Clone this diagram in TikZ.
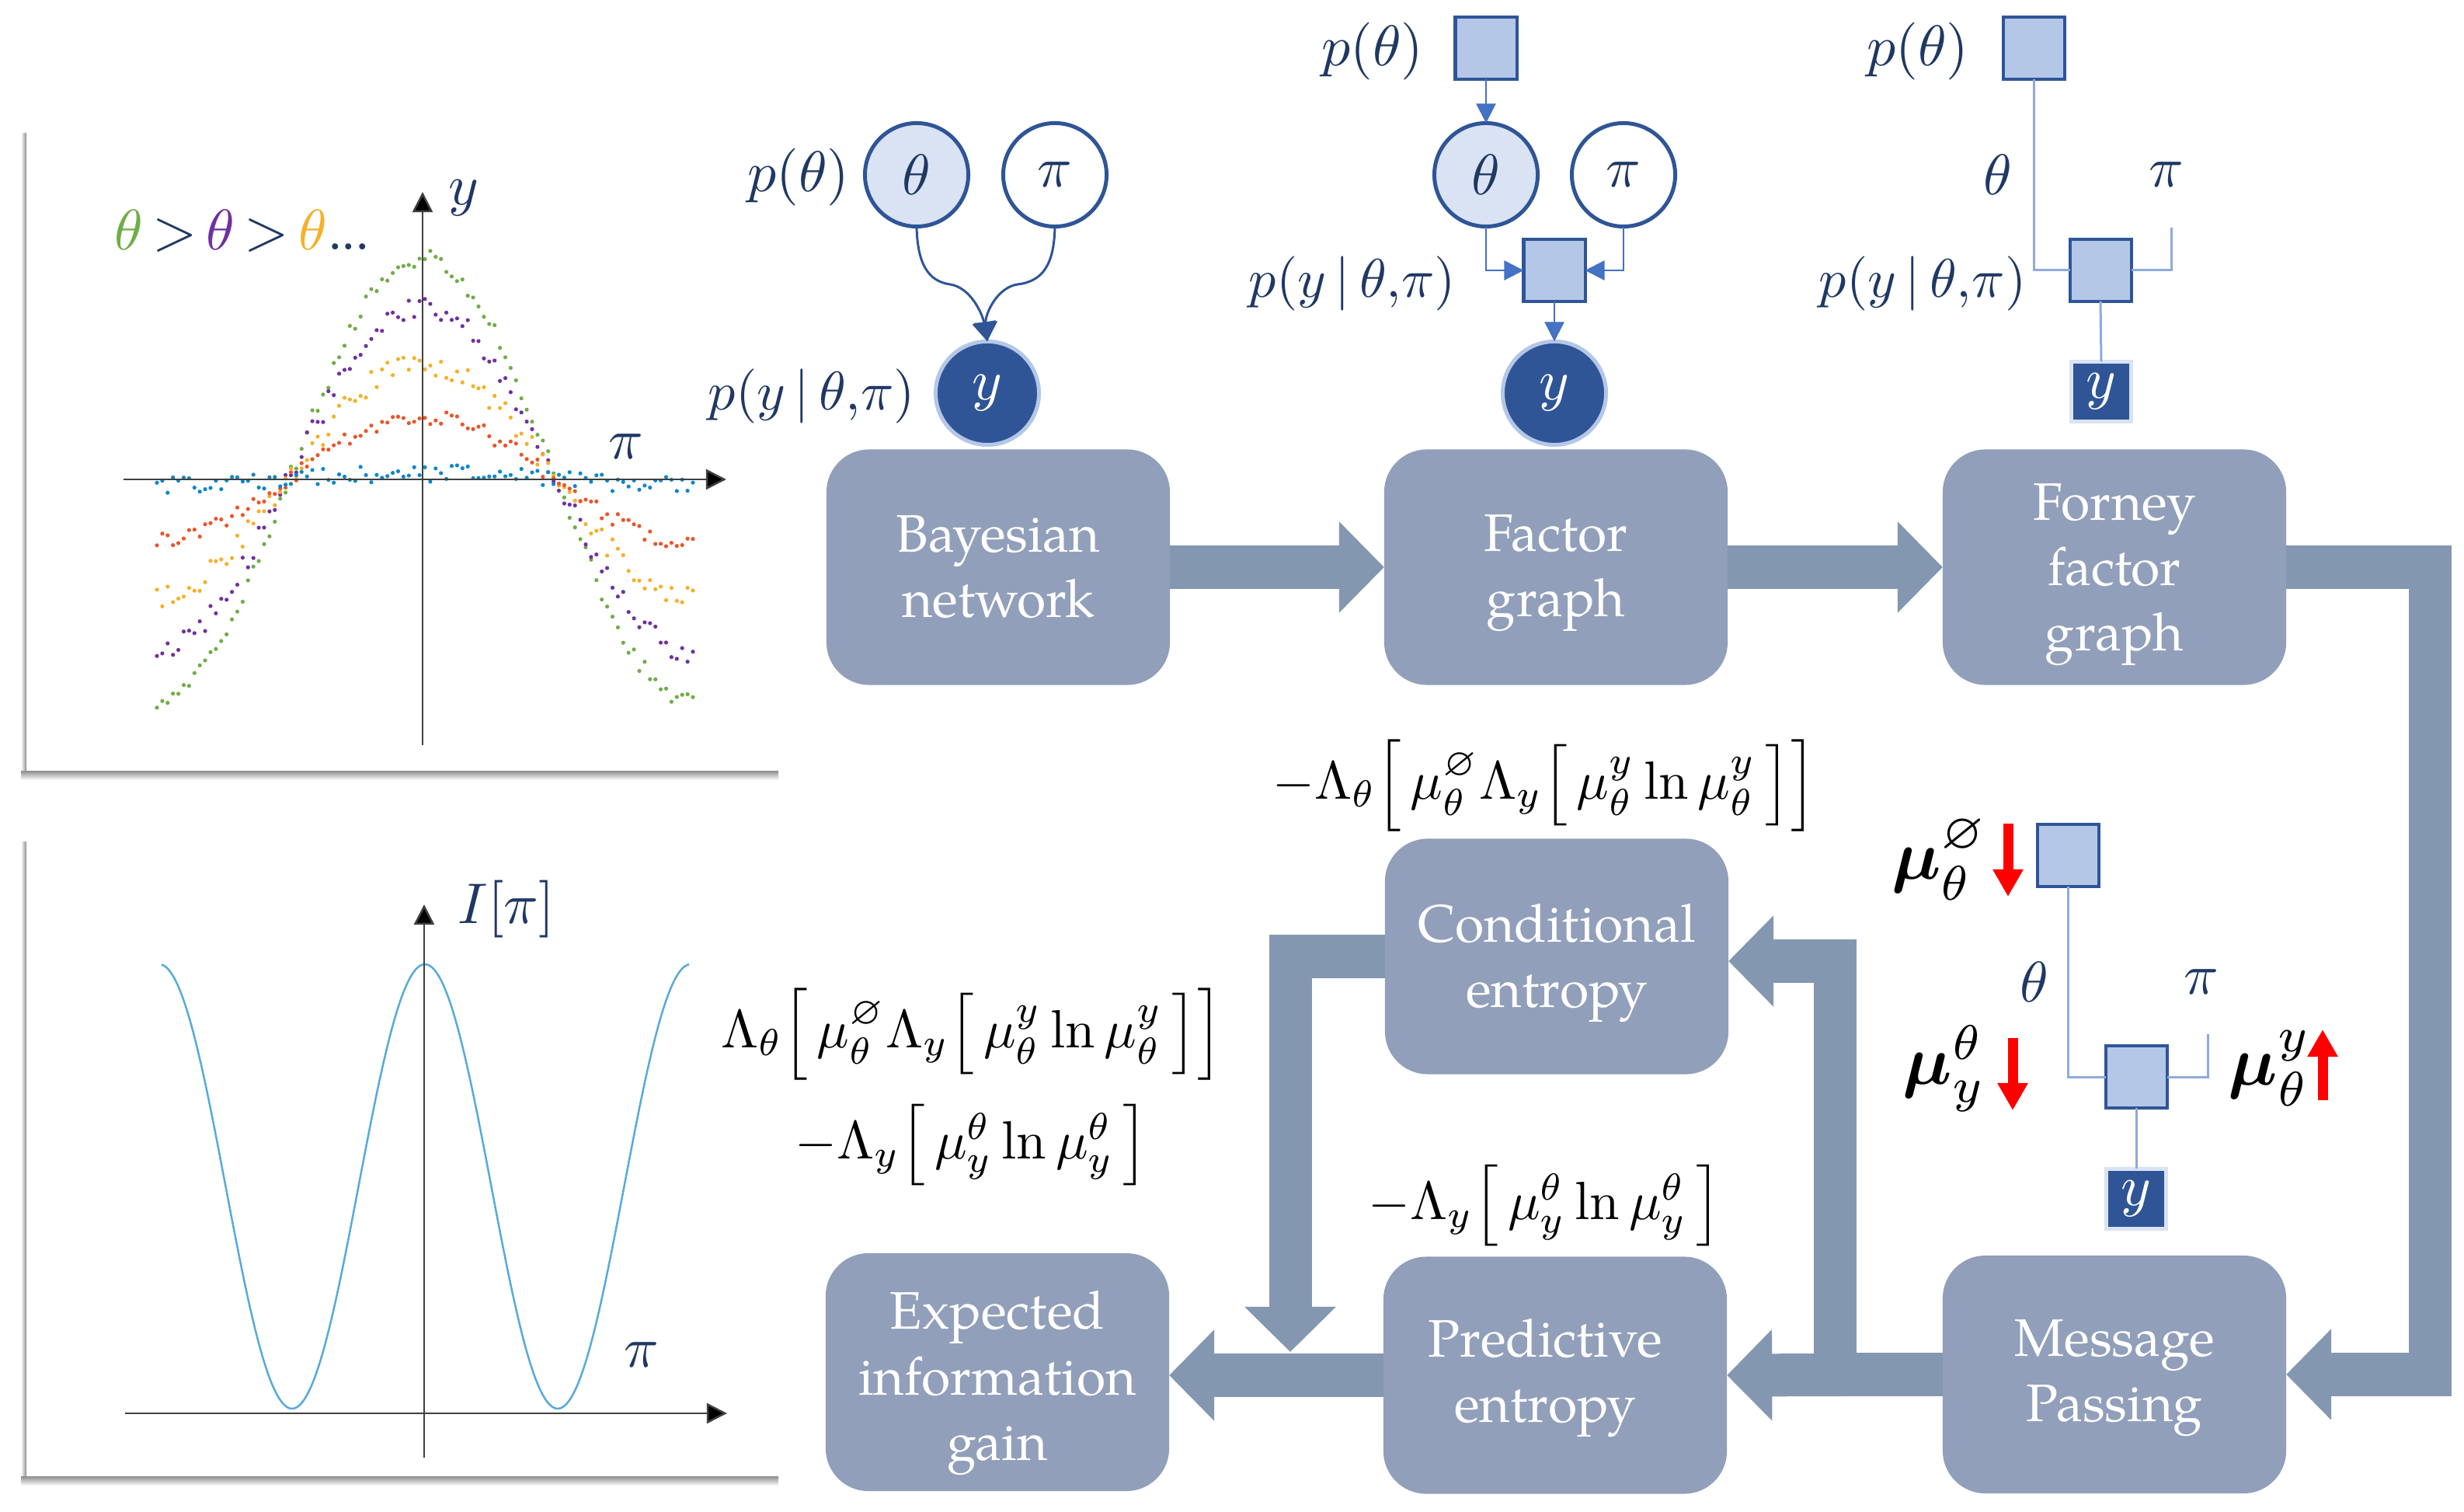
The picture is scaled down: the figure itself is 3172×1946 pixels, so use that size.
\documentclass[tikz,border=0pt]{standalone}
\usepackage{amsmath,amssymb,graphicx}
\usepackage[no-math]{fontspec}
\setmainfont{TeX Gyre Pagella}
\usetikzlibrary{arrows.meta,calc}
\definecolor{navy}{HTML}{1F3864}
\definecolor{boxc}{HTML}{919FBA}
\definecolor{fatc}{HTML}{8497B0}
\definecolor{dk}{HTML}{2F5597}
\definecolor{lt}{HTML}{B4C7E7}
\definecolor{ltr}{HTML}{DAE3F3}
\definecolor{mid}{HTML}{4472C4}
\definecolor{edge}{HTML}{8FAADC}
\definecolor{cgreen}{HTML}{70AD47}
\definecolor{cpurple}{HTML}{7030A0}
\definecolor{corange}{HTML}{F5B02A}
\definecolor{cred}{HTML}{E8562A}
\definecolor{cblue}{HTML}{0F86CC}
\newcommand{\NS}[1]{\scalebox{2.1}{$#1$}}
\newcommand{\LB}{\mathopen{\vcenter{\hbox{\scalebox{1}[0.84]{$\Bigl[$}}}}}
\newcommand{\RB}{\mathclose{\vcenter{\hbox{\scalebox{1}[0.84]{$\Bigr]$}}}}}
\newcommand{\LBB}{\mathopen{\vcenter{\hbox{\scalebox{1}[0.95]{$\Bigl[$}}}}}
\newcommand{\RBB}{\mathclose{\vcenter{\hbox{\scalebox{1}[0.95]{$\Bigr]$}}}}}
\newcommand{\PYG}{\scalebox{0.95}{$p(y\,{|}\,\theta{,}\pi)$}}
\tikzset{
 flow/.style={rounded corners=0.55cm,fill=boxc,minimum width=4.42cm,minimum height=3.03cm,inner sep=0,outer sep=0},
 flowtxt/.style={text=white,inner sep=0,outer sep=0,align=center,font=\fontsize{19.3}{23.9}\selectfont},
 fat/.style={draw=fatc,line width=0.55cm,line join=miter,-{Triangle[length=0.58cm,width=1.14cm]}},
 lab/.style={scale=2.1,text=navy,inner sep=0,outer sep=0},
 form/.style={scale=1.97,text=black,inner sep=0,outer sep=0},
 mulab/.style={scale=2.55,text=black,inner sep=0,outer sep=0},
 var/.style={circle,draw=dk,line width=0.05cm,minimum size=1.33cm,inner sep=0,outer sep=0,text=navy},
 obs/.style={circle,fill=dk,draw=lt,line width=0.05cm,minimum size=1.33cm,inner sep=0,outer sep=0,text=white},
 fac/.style={rectangle,fill=lt,draw=dk,line width=0.04cm,minimum size=0.79cm,inner sep=0,outer sep=0},
 obsq/.style={rectangle,fill=dk,draw=ltr,line width=0.05cm,minimum size=0.77cm,inner sep=0,outer sep=0,text=white},
 thinarr/.style={draw=mid,line width=0.025cm,-{Triangle[length=0.25cm,width=0.25cm]}},
 curvearr/.style={draw=dk,line width=0.03cm,-{Triangle[length=0.25cm,width=0.3cm]}},
 ffline/.style={draw=edge,line width=0.03cm},
 axisline/.style={draw=black!75,line width=0.025cm,-{Triangle[length=0.26cm,width=0.26cm,fill=black]}},
 redarr/.style={draw=red,line width=0.13cm,-{Triangle[length=0.35cm,width=0.37cm]}},
}
\begin{document}
\begin{tikzpicture}[x=0.01cm,y=-0.01cm]
\useasboundingbox[fill=white] (0,0) rectangle (3172,1946);
% panel shadows
\shade[left color=white,right color=black!45] (27,172) rectangle (34,1000);
\shade[top color=black!45,bottom color=white] (27,992) rectangle (1002,1004);
\shade[left color=white,right color=black!45] (27,1083) rectangle (34,1908);
\shade[top color=black!45,bottom color=white] (27,1900) rectangle (1002,1912);
% scatter
\pgfmathsetseed{11}
\foreach \A/\c/\n in {286/cgreen/12,222/cpurple/14,150/corange/15,80/cred/10,8/cblue/11}{
 \foreach \i in {0,...,100}{
  \pgfmathsetmacro\xx{202+6.9*\i}
  \pgfmathsetmacro\yy{617-\A*cos((\xx-544)/345*180)+\n*rand}
  \fill[\c] (\xx,\yy) circle (0.026cm);
 }
}
\coordinate (a1l) at (159,617); \coordinate (a1r) at (935,617);
\coordinate (a1b) at (544,959); \coordinate (a1t) at (544,247);
\draw[axisline] (a1l) -- (a1r);
\draw[axisline] (a1b) -- (a1t);
\node[lab] (leg) at (312,297) {$\textcolor{cgreen}{\theta}\,{>}\,\textcolor{cpurple}{\theta}\,{>}\,\textcolor{corange}{\theta}{.}\hspace{-0.4pt}{.}\hspace{-0.4pt}{.}$};
\node[lab] (ya) at (597,255) {$y$};
\node[lab] (pia) at (806,575) {$\pi$};
% curve
\draw[draw=cblue!70,line width=0.025cm,domain=208:887,samples=160,smooth] plot (\x,{1527-286*cos((\x-547)/171*180)});
\coordinate (a2l) at (161,1819); \coordinate (a2r) at (936,1819);
\coordinate (a2b) at (546,1876); \coordinate (a2t) at (546,1164);
\draw[axisline] (a2l) -- (a2r);
\draw[axisline] (a2b) -- (a2t);
\node[lab] (ib) at (652,1170) {$I[\pi]$};
\node[lab] (pib) at (826,1744) {$\pi$};
% flow boxes
\node[flow] (bayes) at (1285,730) {};
\node[flow] (factor) at (2003,730) {};
\node[flow] (forney) at (2722,730) {};
\node[flow] (cond) at (2004,1231) {};
\node[flow,minimum height=3.05cm] (pred) at (2002,1770) {};
\node[flow,minimum height=3.06cm] (exp) at (1284,1766) {};
\node[flow,minimum height=3.06cm] (msg) at (2722,1769) {};
\node[flowtxt] (bayest) at (bayes.center) {Bayesian\\network};
\node[flowtxt] (factort) at ($(factor.center)+(0,8)$) {Factor\\graph};
\node[flowtxt] (forneyt) at ($(forney.center)+(0,10)$) {Forney\\factor\\graph};
\node[flowtxt] (condt) at ($(cond.center)+(0,8)$) {Conditional\\entropy};
\node[flowtxt] (predt) at ($(pred.center)+(-13,3)$) {Predictive\\entropy};
\node[flowtxt] (expt) at ($(exp.center)+(0,14)$) {Expected\\information\\gain};
\node[flowtxt] (msgt) at ($(msg.center)+(0,5)$) {Message\\Passing};
% fat arrows
\coordinate (c1) at (3128,1769);
\coordinate (c3) at (2362,1237);
\coordinate (c4) at (1661,1740);
\draw[fat] (bayes.east) -- (factor.west);
\draw[fat] (factor.east) -- (forney.west);
\draw[fat] (forney.east) -| (c1) -- (msg.east);
\draw[fat] (msg.west) -- (pred.east);
\draw[fat] (pred.west) -- (pred.west -| exp.east);
\draw[fat] (msg.west) -| (c3) -- (c3 -| cond.east);
\draw[fat] (cond.west) -| (c4);
% Bayesian network
\node[var,fill=ltr] (bt) at (1180,225) {\NS{\theta}};
\node[var] (bp) at (1358,225) {\NS{\pi}};
\node[obs] (by) at (1271,506) {\NS{y}};
\node[lab] (bl1) at (1028,228) {$p(\theta)$};
\node[lab] (bl2) at (1045,510) {\PYG};
\coordinate (bm1) at (1223,366); \coordinate (bm2) at (1310,366);
\draw[curvearr] (bt.south) .. controls (1181,340) and (1195,362) .. (bm1) .. controls (1250,370) and (1265,405) .. (by.north);
\draw[curvearr] (bp.south) .. controls (1357,340) and (1343,362) .. (bm2) .. controls (1283,370) and (1268,405) .. (by.north);
% factor graph
\node[fac] (fs1) at (1913,62) {};
\node[var,fill=ltr] (ft) at (1913,225) {\NS{\theta}};
\node[var] (fp) at (2090,225) {\NS{\pi}};
\node[fac] (fs2) at (2001,348) {};
\node[obs] (fy) at (2001,506) {\NS{y}};
\node[lab] (fl1) at (1767,66) {$p(\theta)$};
\node[lab] (fl2) at (1741,365) {\PYG};
\draw[thinarr] (fs1.south) -- (ft.north);
\draw[thinarr] (ft.south) |- (fs2.west);
\draw[thinarr] (fp.south) |- (fs2.east);
\draw[thinarr] (fs2.south) -- (fy.north);
% Forney factor graph
\node[fac] (ns1) at (2618,62) {};
\node[fac] (ns2) at (2704,348) {};
\node[obsq] (ny) at (2705,504) {\NS{y}};
\coordinate (nf) at (2795,293);
\node[lab] (nl1) at (2469,66) {$p(\theta)$};
\node[lab] (nl2) at (2475,365) {\PYG};
\node[lab] (nt) at (2572,225) {$\theta$};
\node[lab] (np) at (2789,225) {$\pi$};
\draw[ffline] (ns1.south) |- (ns2.west);
\draw[ffline] (ns2.east) -| (nf);
\draw[ffline] (ns2.south) -- (ny.north);
% Message passing
\node[fac] (ms1) at (2662,1101) {};
\node[fac] (ms2) at (2750,1386) {};
\node[obsq] (my) at (2750,1543) {\NS{y}};
\coordinate (mf) at (2842,1331);
\node[lab] (mt) at (2619,1264) {$\theta$};
\node[lab] (mp) at (2834,1264) {$\pi$};
\draw[ffline] (ms1.south) |- (ms2.west);
\draw[ffline] (ms2.east) -| (mf);
\draw[ffline] (ms2.south) -- (my.north);
\node[mulab] (m1) at (2497,1106) {$\boldsymbol{\mu}_\theta^{\varnothing}$};
\node[mulab] (m2) at (2503,1375) {$\boldsymbol{\mu}_y^{\theta}$};
\node[mulab] (m3) at (2922,1375) {$\boldsymbol{\mu}_\theta^{y}$};
\coordinate (r1a) at (2585,1060); \coordinate (r1b) at (2585,1154);
\coordinate (r2a) at (2591,1336); \coordinate (r2b) at (2591,1429);
\coordinate (r3a) at (2990,1416); \coordinate (r3b) at (2990,1325);
\draw[redarr] (r1a) -- (r1b);
\draw[redarr] (r2a) -- (r2b);
\draw[redarr] (r3a) -- (r3b);
% formulas
\node[form] (f1) at (1988,1011) {$-\Lambda_\theta\LBB\,\mu_\theta^{\varnothing}\Lambda_y\LB\,\mu_\theta^y\ln\mu_\theta^y\,\RB\RBB$};
\node[form] (f2) at (1251,1331) {$\Lambda_\theta\LBB\,\mu_\theta^{\varnothing}\Lambda_y\LB\,\mu_\theta^y\ln\mu_\theta^y\,\RB\RBB$};
\node[form] (f3) at (1251,1474) {$-\Lambda_y\LB\,\mu_y^{\theta}\ln\mu_y^{\theta}\,\RB$};
\node[form] (f4) at (1989,1552) {$-\Lambda_y\LB\,\mu_y^{\theta}\ln\mu_y^{\theta}\,\RB$};
\end{tikzpicture}
\end{document}
